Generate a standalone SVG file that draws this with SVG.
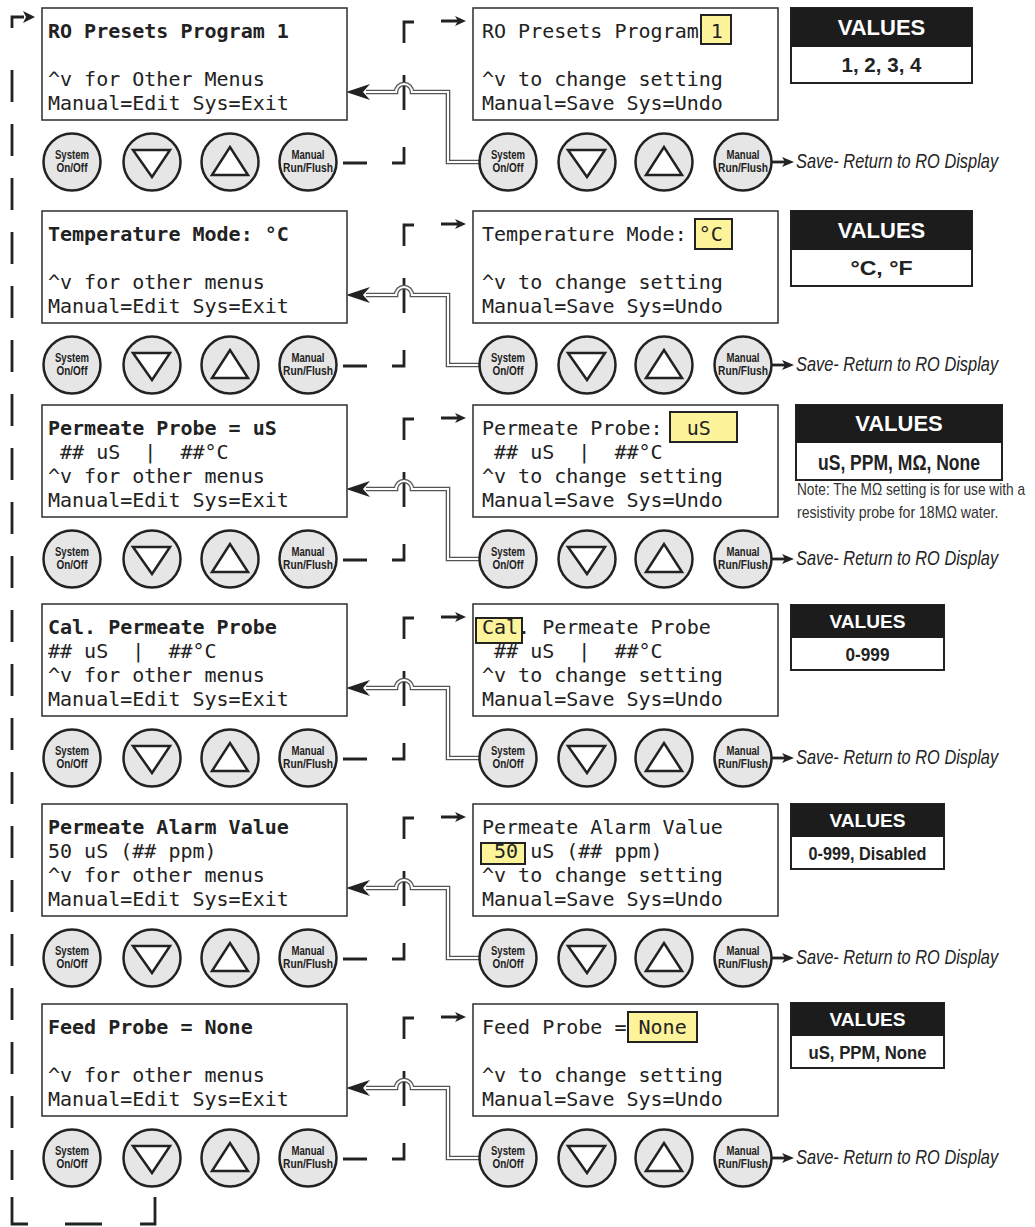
<svg xmlns="http://www.w3.org/2000/svg" xmlns:xlink="http://www.w3.org/1999/xlink" width="1035" height="1227" viewBox="0 0 1035 1227">
<style>
.disp{fill:#fff;stroke:#3a3a3a;stroke-width:1.6}
.mono{font-family:"DejaVu Sans Mono","Liberation Mono",monospace;font-size:20px;fill:#222;white-space:pre}
.b{font-weight:bold}
.hl{fill:#fdf39b;stroke:#222;stroke-width:2}
.btn{fill:#e6e6e6;stroke:#222;stroke-width:2.5}
.tri{fill:#fff;stroke:#222;stroke-width:2.5;stroke-linejoin:miter}
.bt{font-family:"Liberation Sans Narrow","Liberation Sans",Arial,sans-serif;font-weight:bold;font-size:12.5px;fill:#222;text-anchor:middle}
.dash{stroke:#222;stroke-width:2.8;fill:none}
.dblo{stroke:#555;stroke-width:4.6;fill:none}
.dbli{stroke:#fff;stroke-width:2;fill:none}
.ah{fill:#222}
.vb{fill:#fff;stroke:#222;stroke-width:2}
.vh{fill:#1c1c1c}
.vt{font-family:"Liberation Sans",Arial,sans-serif;font-weight:bold;fill:#fff;text-anchor:middle}
.vv{font-family:"Liberation Sans Narrow","Liberation Sans",Arial,sans-serif;font-weight:bold;fill:#222;text-anchor:middle}
.save{font-family:"Liberation Sans",Arial,sans-serif;font-style:italic;font-size:20px;fill:#222}
.note{font-family:"Liberation Sans",Arial,sans-serif;font-size:16px;fill:#333}
</style>
<defs>
<g id="down"><circle class="btn" r="28.5"/><path class="tri" d="M-19,-12 H18 L0,15 Z"/></g>
<g id="up"><circle class="btn" r="28.5"/><path class="tri" d="M-18,13 H18 L0,-15 Z"/></g>
</defs>

<!-- connectors -->
<g id="connectors">
  <path class="dash" d="M12,28 V17 H24"/>
  <path class="ah" d="M35,17 L23,11 L26,17 L23,23 Z"/>
  <path class="dash" d="M12,70 V1180" stroke-dasharray="32 22"/>
  <path class="dash" d="M12,1197 V1224 H28 M65,1224 H102 M140,1224 H155 V1197"/>

  <path class="dash" d="M343,163 H367 M392,163 H404 V147 M404,75 V110 M404,43 V22 H414 M441,21 H458"/>
  <path class="ah" d="M466,21 L455,16 L458,21 L455,26 Z"/>
  <path class="dblo" d="M480,162 H448 V92 H412 A8,8 0 0 0 396,92 H366"/>
  <path class="dbli" d="M480,162 H448 V92 H412 A8,8 0 0 0 396,92 H366"/>
  <path class="ah" d="M346,92 L370,84 L363,92 L370,100 Z"/>
  <path class="dash" d="M771,162 H785" stroke-width="2"/>
  <path class="ah" d="M794,162 L782,157 L785,162 L782,167 Z"/>

  <path class="dash" d="M343,366 H367 M392,366 H404 V350 M404,278 V313 M404,246 V225 H414 M441,224 H458"/>
  <path class="ah" d="M466,224 L455,219 L458,224 L455,229 Z"/>
  <path class="dblo" d="M480,365 H448 V295 H412 A8,8 0 0 0 396,295 H366"/>
  <path class="dbli" d="M480,365 H448 V295 H412 A8,8 0 0 0 396,295 H366"/>
  <path class="ah" d="M346,295 L370,287 L363,295 L370,303 Z"/>
  <path class="dash" d="M771,365 H785" stroke-width="2"/>
  <path class="ah" d="M794,365 L782,360 L785,365 L782,370 Z"/>

  <path class="dash" d="M343,560 H367 M392,560 H404 V544 M404,472 V507 M404,440 V419 H414 M441,418 H458"/>
  <path class="ah" d="M466,418 L455,413 L458,418 L455,423 Z"/>
  <path class="dblo" d="M480,559 H448 V489 H412 A8,8 0 0 0 396,489 H366"/>
  <path class="dbli" d="M480,559 H448 V489 H412 A8,8 0 0 0 396,489 H366"/>
  <path class="ah" d="M346,489 L370,481 L363,489 L370,497 Z"/>
  <path class="dash" d="M771,559 H785" stroke-width="2"/>
  <path class="ah" d="M794,559 L782,554 L785,559 L782,564 Z"/>

  <path class="dash" d="M343,759 H367 M392,759 H404 V743 M404,671 V706 M404,639 V618 H414 M441,617 H458"/>
  <path class="ah" d="M466,617 L455,612 L458,617 L455,622 Z"/>
  <path class="dblo" d="M480,758 H448 V688 H412 A8,8 0 0 0 396,688 H366"/>
  <path class="dbli" d="M480,758 H448 V688 H412 A8,8 0 0 0 396,688 H366"/>
  <path class="ah" d="M346,688 L370,680 L363,688 L370,696 Z"/>
  <path class="dash" d="M771,758 H785" stroke-width="2"/>
  <path class="ah" d="M794,758 L782,753 L785,758 L782,763 Z"/>

  <path class="dash" d="M343,959 H367 M392,959 H404 V943 M404,871 V906 M404,839 V818 H414 M441,817 H458"/>
  <path class="ah" d="M466,817 L455,812 L458,817 L455,822 Z"/>
  <path class="dblo" d="M480,958 H448 V888 H412 A8,8 0 0 0 396,888 H366"/>
  <path class="dbli" d="M480,958 H448 V888 H412 A8,8 0 0 0 396,888 H366"/>
  <path class="ah" d="M346,888 L370,880 L363,888 L370,896 Z"/>
  <path class="dash" d="M771,958 H785" stroke-width="2"/>
  <path class="ah" d="M794,958 L782,953 L785,958 L782,963 Z"/>

  <path class="dash" d="M343,1159 H367 M392,1159 H404 V1143 M404,1071 V1106 M404,1039 V1018 H414 M441,1017 H458"/>
  <path class="ah" d="M466,1017 L455,1012 L458,1017 L455,1022 Z"/>
  <path class="dblo" d="M480,1158 H448 V1088 H412 A8,8 0 0 0 396,1088 H366"/>
  <path class="dbli" d="M480,1158 H448 V1088 H412 A8,8 0 0 0 396,1088 H366"/>
  <path class="ah" d="M346,1088 L370,1080 L363,1088 L370,1096 Z"/>
  <path class="dash" d="M771,1158 H785" stroke-width="2"/>
  <path class="ah" d="M794,1158 L782,1153 L785,1158 L782,1163 Z"/>
</g>

<!-- ROW 1 -->
<g id="menu1">
  <rect class="disp" x="42" y="8" width="305" height="112"/>
  <text class="mono b" x="48" y="38">RO Presets Program 1</text>
  <text class="mono" x="48" y="86">^v for Other Menus</text>
  <text class="mono" x="48" y="110">Manual=Edit Sys=Exit</text>
</g>
<g id="keys1">
  <g transform="translate(72,162)"><circle class="btn" r="28.5"/><text class="bt" y="-3" textLength="34" lengthAdjust="spacingAndGlyphs">System</text><text class="bt" y="10" textLength="31" lengthAdjust="spacingAndGlyphs">On/Off</text></g>
  <use xlink:href="#down" x="152" y="162"/>
  <use xlink:href="#up" x="230" y="162"/>
  <g transform="translate(308,162)"><circle class="btn" r="28.5"/><text class="bt" y="-3" textLength="33" lengthAdjust="spacingAndGlyphs">Manual</text><text class="bt" y="10" textLength="50" lengthAdjust="spacingAndGlyphs">Run/Flush</text></g>
</g>
<g id="edit1">
  <rect class="disp" x="473" y="8" width="305" height="112"/>
  <rect class="hl" x="701" y="15" width="30" height="29"/>
  <text class="mono" x="482" y="38">RO Presets Program 1</text>
  <text class="mono" x="482" y="86">^v to change setting</text>
  <text class="mono" x="482" y="110">Manual=Save Sys=Undo</text>
</g>
<g id="ekeys1">
  <g transform="translate(508,162)"><circle class="btn" r="28.5"/><text class="bt" y="-3" textLength="34" lengthAdjust="spacingAndGlyphs">System</text><text class="bt" y="10" textLength="31" lengthAdjust="spacingAndGlyphs">On/Off</text></g>
  <use xlink:href="#down" x="587" y="162"/>
  <use xlink:href="#up" x="664" y="162"/>
  <g transform="translate(743,162)"><circle class="btn" r="28.5"/><text class="bt" y="-3" textLength="33" lengthAdjust="spacingAndGlyphs">Manual</text><text class="bt" y="10" textLength="50" lengthAdjust="spacingAndGlyphs">Run/Flush</text></g>
  <text class="save" transform="translate(796,168) scale(0.82,1)">Save- Return to RO Display</text>
</g>
<g id="values1">
  <rect class="vb" x="791" y="8" width="181" height="75"/>
  <rect class="vh" x="791" y="8" width="181" height="39"/>
  <text class="vt" x="881.5" y="35" font-size="22">VALUES</text>
  <text class="vv" x="881.5" y="72" font-size="21" textLength="80" lengthAdjust="spacingAndGlyphs">1, 2, 3, 4</text>
</g>

<!-- ROW 2 -->
<g id="menu2">
  <rect class="disp" x="42" y="211" width="305" height="112"/>
  <text class="mono b" x="48" y="241">Temperature Mode: °C</text>
  <text class="mono" x="48" y="289">^v for other menus</text>
  <text class="mono" x="48" y="313">Manual=Edit Sys=Exit</text>
</g>
<g id="keys2">
  <g transform="translate(72,365)"><circle class="btn" r="28.5"/><text class="bt" y="-3" textLength="34" lengthAdjust="spacingAndGlyphs">System</text><text class="bt" y="10" textLength="31" lengthAdjust="spacingAndGlyphs">On/Off</text></g>
  <use xlink:href="#down" x="152" y="365"/>
  <use xlink:href="#up" x="230" y="365"/>
  <g transform="translate(308,365)"><circle class="btn" r="28.5"/><text class="bt" y="-3" textLength="33" lengthAdjust="spacingAndGlyphs">Manual</text><text class="bt" y="10" textLength="50" lengthAdjust="spacingAndGlyphs">Run/Flush</text></g>
</g>
<g id="edit2">
  <rect class="disp" x="473" y="211" width="305" height="112"/>
  <rect class="hl" x="695" y="219" width="37" height="30"/>
  <text class="mono" x="482" y="241">Temperature Mode: °C</text>
  <text class="mono" x="482" y="289">^v to change setting</text>
  <text class="mono" x="482" y="313">Manual=Save Sys=Undo</text>
</g>
<g id="ekeys2">
  <g transform="translate(508,365)"><circle class="btn" r="28.5"/><text class="bt" y="-3" textLength="34" lengthAdjust="spacingAndGlyphs">System</text><text class="bt" y="10" textLength="31" lengthAdjust="spacingAndGlyphs">On/Off</text></g>
  <use xlink:href="#down" x="587" y="365"/>
  <use xlink:href="#up" x="664" y="365"/>
  <g transform="translate(743,365)"><circle class="btn" r="28.5"/><text class="bt" y="-3" textLength="33" lengthAdjust="spacingAndGlyphs">Manual</text><text class="bt" y="10" textLength="50" lengthAdjust="spacingAndGlyphs">Run/Flush</text></g>
  <text class="save" transform="translate(796,371) scale(0.82,1)">Save- Return to RO Display</text>
</g>
<g id="values2">
  <rect class="vb" x="791" y="211" width="181" height="75"/>
  <rect class="vh" x="791" y="211" width="181" height="39"/>
  <text class="vt" x="881.5" y="238" font-size="22">VALUES</text>
  <text class="vv" x="881.5" y="275" font-size="21" textLength="62" lengthAdjust="spacingAndGlyphs">°C, °F</text>
</g>

<!-- ROW 3 -->
<g id="menu3">
  <rect class="disp" x="42" y="405" width="305" height="112"/>
  <text class="mono b" x="48" y="435">Permeate Probe = uS</text>
  <text class="mono" x="48" y="459">&#160;##&#160;uS&#160;&#160;|&#160;&#160;##°C</text>
  <text class="mono" x="48" y="483">^v for other menus</text>
  <text class="mono" x="48" y="507">Manual=Edit Sys=Exit</text>
</g>
<g id="keys3">
  <g transform="translate(72,559)"><circle class="btn" r="28.5"/><text class="bt" y="-3" textLength="34" lengthAdjust="spacingAndGlyphs">System</text><text class="bt" y="10" textLength="31" lengthAdjust="spacingAndGlyphs">On/Off</text></g>
  <use xlink:href="#down" x="152" y="559"/>
  <use xlink:href="#up" x="230" y="559"/>
  <g transform="translate(308,559)"><circle class="btn" r="28.5"/><text class="bt" y="-3" textLength="33" lengthAdjust="spacingAndGlyphs">Manual</text><text class="bt" y="10" textLength="50" lengthAdjust="spacingAndGlyphs">Run/Flush</text></g>
</g>
<g id="edit3">
  <rect class="disp" x="473" y="405" width="305" height="112"/>
  <rect class="hl" x="670" y="412" width="67" height="30"/>
  <text class="mono" x="482" y="435">Permeate Probe:&#160;&#160;uS</text>
  <text class="mono" x="482" y="459">&#160;##&#160;uS&#160;&#160;|&#160;&#160;##°C</text>
  <text class="mono" x="482" y="483">^v to change setting</text>
  <text class="mono" x="482" y="507">Manual=Save Sys=Undo</text>
</g>
<g id="ekeys3">
  <g transform="translate(508,559)"><circle class="btn" r="28.5"/><text class="bt" y="-3" textLength="34" lengthAdjust="spacingAndGlyphs">System</text><text class="bt" y="10" textLength="31" lengthAdjust="spacingAndGlyphs">On/Off</text></g>
  <use xlink:href="#down" x="587" y="559"/>
  <use xlink:href="#up" x="664" y="559"/>
  <g transform="translate(743,559)"><circle class="btn" r="28.5"/><text class="bt" y="-3" textLength="33" lengthAdjust="spacingAndGlyphs">Manual</text><text class="bt" y="10" textLength="50" lengthAdjust="spacingAndGlyphs">Run/Flush</text></g>
  <text class="save" transform="translate(796,565) scale(0.82,1)">Save- Return to RO Display</text>
</g>
<g id="values3">
  <rect class="vb" x="796" y="405" width="206" height="75"/>
  <rect class="vh" x="796" y="405" width="206" height="38"/>
  <text class="vt" x="899" y="431" font-size="22">VALUES</text>
  <text class="vv" x="899" y="470" font-size="22" textLength="162" lengthAdjust="spacingAndGlyphs">uS, PPM, MΩ, None</text>
  <text class="note" transform="translate(797,495) scale(0.855,1)">Note: The MΩ setting is for use with a</text>
  <text class="note" transform="translate(797,518) scale(0.88,1)">resistivity probe for 18MΩ water.</text>
</g>

<!-- ROW 4 -->
<g id="menu4">
  <rect class="disp" x="42" y="604" width="305" height="112"/>
  <text class="mono b" x="48" y="634">Cal. Permeate Probe</text>
  <text class="mono" x="48" y="658">##&#160;uS&#160;&#160;|&#160;&#160;##°C</text>
  <text class="mono" x="48" y="682">^v for other menus</text>
  <text class="mono" x="48" y="706">Manual=Edit Sys=Exit</text>
</g>
<g id="keys4">
  <g transform="translate(72,758)"><circle class="btn" r="28.5"/><text class="bt" y="-3" textLength="34" lengthAdjust="spacingAndGlyphs">System</text><text class="bt" y="10" textLength="31" lengthAdjust="spacingAndGlyphs">On/Off</text></g>
  <use xlink:href="#down" x="152" y="758"/>
  <use xlink:href="#up" x="230" y="758"/>
  <g transform="translate(308,758)"><circle class="btn" r="28.5"/><text class="bt" y="-3" textLength="33" lengthAdjust="spacingAndGlyphs">Manual</text><text class="bt" y="10" textLength="50" lengthAdjust="spacingAndGlyphs">Run/Flush</text></g>
</g>
<g id="edit4">
  <rect class="disp" x="473" y="604" width="305" height="112"/>
  <rect class="hl" x="476" y="618" width="46" height="25"/>
  <text class="mono" x="482" y="634">Cal. Permeate Probe</text>
  <text class="mono" x="482" y="658">&#160;##&#160;uS&#160;&#160;|&#160;&#160;##°C</text>
  <text class="mono" x="482" y="682">^v to change setting</text>
  <text class="mono" x="482" y="706">Manual=Save Sys=Undo</text>
</g>
<g id="ekeys4">
  <g transform="translate(508,758)"><circle class="btn" r="28.5"/><text class="bt" y="-3" textLength="34" lengthAdjust="spacingAndGlyphs">System</text><text class="bt" y="10" textLength="31" lengthAdjust="spacingAndGlyphs">On/Off</text></g>
  <use xlink:href="#down" x="587" y="758"/>
  <use xlink:href="#up" x="664" y="758"/>
  <g transform="translate(743,758)"><circle class="btn" r="28.5"/><text class="bt" y="-3" textLength="33" lengthAdjust="spacingAndGlyphs">Manual</text><text class="bt" y="10" textLength="50" lengthAdjust="spacingAndGlyphs">Run/Flush</text></g>
  <text class="save" transform="translate(796,764) scale(0.82,1)">Save- Return to RO Display</text>
</g>
<g id="values4">
  <rect class="vb" x="791" y="605" width="153" height="65"/>
  <rect class="vh" x="791" y="605" width="153" height="33"/>
  <text class="vt" x="867.5" y="628" font-size="18" textLength="76" lengthAdjust="spacingAndGlyphs">VALUES</text>
  <text class="vv" x="867.5" y="661" font-size="19" textLength="44" lengthAdjust="spacingAndGlyphs">0-999</text>
</g>

<!-- ROW 5 -->
<g id="menu5">
  <rect class="disp" x="42" y="804" width="305" height="112"/>
  <text class="mono b" x="48" y="834">Permeate Alarm Value</text>
  <text class="mono" x="48" y="858">50 uS (## ppm)</text>
  <text class="mono" x="48" y="882">^v for other menus</text>
  <text class="mono" x="48" y="906">Manual=Edit Sys=Exit</text>
</g>
<g id="keys5">
  <g transform="translate(72,958)"><circle class="btn" r="28.5"/><text class="bt" y="-3" textLength="34" lengthAdjust="spacingAndGlyphs">System</text><text class="bt" y="10" textLength="31" lengthAdjust="spacingAndGlyphs">On/Off</text></g>
  <use xlink:href="#down" x="152" y="958"/>
  <use xlink:href="#up" x="230" y="958"/>
  <g transform="translate(308,958)"><circle class="btn" r="28.5"/><text class="bt" y="-3" textLength="33" lengthAdjust="spacingAndGlyphs">Manual</text><text class="bt" y="10" textLength="50" lengthAdjust="spacingAndGlyphs">Run/Flush</text></g>
</g>
<g id="edit5">
  <rect class="disp" x="473" y="804" width="305" height="112"/>
  <rect class="hl" x="481" y="843" width="44" height="21"/>
  <text class="mono" x="482" y="834">Permeate Alarm Value</text>
  <text class="mono" x="482" y="858">&#160;50 uS (## ppm)</text>
  <text class="mono" x="482" y="882">^v to change setting</text>
  <text class="mono" x="482" y="906">Manual=Save Sys=Undo</text>
</g>
<g id="ekeys5">
  <g transform="translate(508,958)"><circle class="btn" r="28.5"/><text class="bt" y="-3" textLength="34" lengthAdjust="spacingAndGlyphs">System</text><text class="bt" y="10" textLength="31" lengthAdjust="spacingAndGlyphs">On/Off</text></g>
  <use xlink:href="#down" x="587" y="958"/>
  <use xlink:href="#up" x="664" y="958"/>
  <g transform="translate(743,958)"><circle class="btn" r="28.5"/><text class="bt" y="-3" textLength="33" lengthAdjust="spacingAndGlyphs">Manual</text><text class="bt" y="10" textLength="50" lengthAdjust="spacingAndGlyphs">Run/Flush</text></g>
  <text class="save" transform="translate(796,964) scale(0.82,1)">Save- Return to RO Display</text>
</g>
<g id="values5">
  <rect class="vb" x="791" y="804" width="153" height="65"/>
  <rect class="vh" x="791" y="804" width="153" height="33"/>
  <text class="vt" x="867.5" y="827" font-size="18" textLength="76" lengthAdjust="spacingAndGlyphs">VALUES</text>
  <text class="vv" x="867.5" y="860" font-size="19" textLength="118" lengthAdjust="spacingAndGlyphs">0-999, Disabled</text>
</g>

<!-- ROW 6 -->
<g id="menu6">
  <rect class="disp" x="42" y="1004" width="305" height="112"/>
  <text class="mono b" x="48" y="1034">Feed Probe = None</text>
  <text class="mono" x="48" y="1082">^v for other menus</text>
  <text class="mono" x="48" y="1106">Manual=Edit Sys=Exit</text>
</g>
<g id="keys6">
  <g transform="translate(72,1158)"><circle class="btn" r="28.5"/><text class="bt" y="-3" textLength="34" lengthAdjust="spacingAndGlyphs">System</text><text class="bt" y="10" textLength="31" lengthAdjust="spacingAndGlyphs">On/Off</text></g>
  <use xlink:href="#down" x="152" y="1158"/>
  <use xlink:href="#up" x="230" y="1158"/>
  <g transform="translate(308,1158)"><circle class="btn" r="28.5"/><text class="bt" y="-3" textLength="33" lengthAdjust="spacingAndGlyphs">Manual</text><text class="bt" y="10" textLength="50" lengthAdjust="spacingAndGlyphs">Run/Flush</text></g>
</g>
<g id="edit6">
  <rect class="disp" x="473" y="1004" width="305" height="112"/>
  <rect class="hl" x="628" y="1012" width="69" height="30"/>
  <text class="mono" x="482" y="1034">Feed Probe = None</text>
  <text class="mono" x="482" y="1082">^v to change setting</text>
  <text class="mono" x="482" y="1106">Manual=Save Sys=Undo</text>
</g>
<g id="ekeys6">
  <g transform="translate(508,1158)"><circle class="btn" r="28.5"/><text class="bt" y="-3" textLength="34" lengthAdjust="spacingAndGlyphs">System</text><text class="bt" y="10" textLength="31" lengthAdjust="spacingAndGlyphs">On/Off</text></g>
  <use xlink:href="#down" x="587" y="1158"/>
  <use xlink:href="#up" x="664" y="1158"/>
  <g transform="translate(743,1158)"><circle class="btn" r="28.5"/><text class="bt" y="-3" textLength="33" lengthAdjust="spacingAndGlyphs">Manual</text><text class="bt" y="10" textLength="50" lengthAdjust="spacingAndGlyphs">Run/Flush</text></g>
  <text class="save" transform="translate(796,1164) scale(0.82,1)">Save- Return to RO Display</text>
</g>
<g id="values6">
  <rect class="vb" x="791" y="1003" width="153" height="65"/>
  <rect class="vh" x="791" y="1003" width="153" height="33"/>
  <text class="vt" x="867.5" y="1026" font-size="18" textLength="76" lengthAdjust="spacingAndGlyphs">VALUES</text>
  <text class="vv" x="867.5" y="1059" font-size="19" textLength="118" lengthAdjust="spacingAndGlyphs">uS, PPM, None</text>
</g>
</svg>
